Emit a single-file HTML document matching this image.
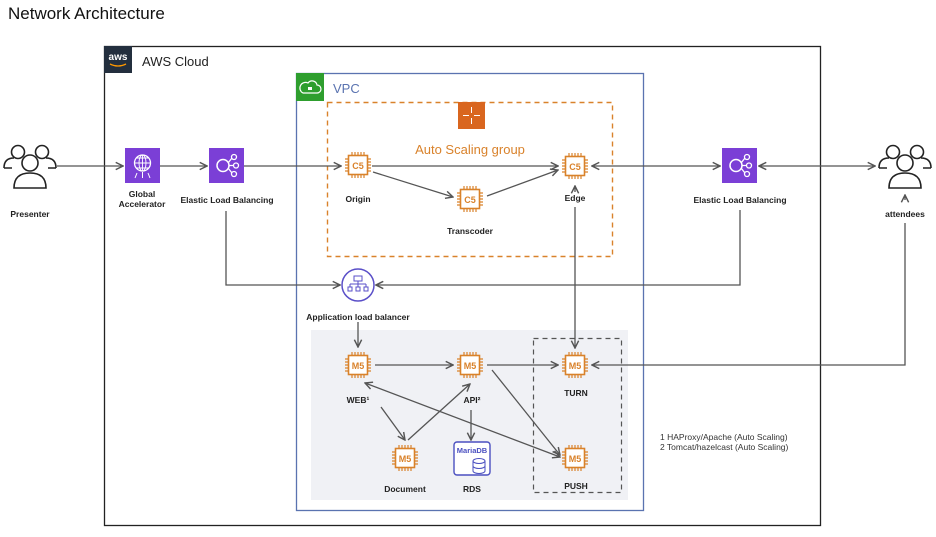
<!DOCTYPE html>
<html><head><meta charset="utf-8"><style>
html,body{margin:0;padding:0;background:#fff;}
svg{display:block;font-family:"Liberation Sans",Arial,sans-serif;}
.lb{font-size:8.5px;font-weight:bold;fill:#222;text-anchor:middle;}
.ln{stroke:#555;stroke-width:1.3;fill:none;}
</style></head><body>
<svg width="936" height="537" viewBox="0 0 936 537" xmlns="http://www.w3.org/2000/svg">
<defs>
<marker id="a" viewBox="0 0 10 10" refX="9" refY="5" markerWidth="7" markerHeight="7" orient="auto-start-reverse">
<path d="M1,1 L9,5 L1,9" fill="none" stroke="#555" stroke-width="1.6"/></marker>
<g id="chip">
<rect x="-9.5" y="-9.5" width="19" height="19" fill="#fff" stroke="#d9822b" stroke-width="1.6"/>
<path d="M-6,-9v-4M-3,-9v-4M0,-9v-4M3,-9v-4M6,-9v-4 M-6,9v4M-3,9v4M0,9v4M3,9v4M6,9v4 M-9,-6h-4M-9,-3h-4M-9,0h-4M-9,3h-4M-9,6h-4 M9,-6h4M9,-3h4M9,0h4M9,3h4M9,6h4" stroke="#d9822b" stroke-width="1.2"/>
</g>
<g id="elb">
<rect x="0" y="0" width="35" height="35" fill="#7b3fd6"/>
<circle cx="14" cy="17.5" r="6" fill="none" stroke="#fff" stroke-width="1.5"/>
<circle cx="25" cy="9" r="2.5" fill="none" stroke="#fff" stroke-width="1.3"/>
<circle cx="27" cy="17.5" r="2.5" fill="none" stroke="#fff" stroke-width="1.3"/>
<circle cx="25" cy="26" r="2.5" fill="none" stroke="#fff" stroke-width="1.3"/>
<path d="M19,15 L23,10 M20,17.5 L24.5,17.5 M19,20 L23,25" stroke="#fff" stroke-width="1.3"/>
</g>
<g id="people" fill="none" stroke="#222" stroke-width="1.6">
<circle cx="-12" cy="-14" r="6.5"/><circle cx="12" cy="-14" r="6.5"/>
<path d="M-26,2 q0,-10 10,-10 M26,2 q0,-10 -10,-10"/>
<path d="M-26,2 h8 M26,2 h-8"/>
<circle cx="0" cy="-3" r="8" fill="#fff"/>
<path d="M-16,22 q0,-15 16,-15 q16,0 16,15 z" fill="#fff"/>
</g>
</defs>

<text x="8" y="19" font-size="17" fill="#111">Network Architecture</text>

<rect x="104.5" y="46.5" width="716" height="479" fill="none" stroke="#222" stroke-width="1.3"/>
<rect x="104" y="46" width="28" height="27" fill="#232f3e"/>
<text x="118" y="60" font-size="10" fill="#fff" text-anchor="middle" font-weight="bold">aws</text>
<path d="M110,64 q8,4 16,0" stroke="#f90" stroke-width="1.3" fill="none"/>
<text x="142" y="66" font-size="13" fill="#222">AWS Cloud</text>

<rect x="296.5" y="73.5" width="347" height="437" fill="none" stroke="#5a73b0" stroke-width="1.3"/>
<rect x="296" y="73" width="28" height="28" fill="#2e9e2e"/>
<path d="M303,93 h14 a4,4 0 0 0 0,-8 a5,5 0 0 0 -9,-2 a4,4 0 0 0 -5,10z" fill="none" stroke="#fff" stroke-width="1.2"/>
<rect x="308" y="87" width="4" height="3" fill="#fff"/>
<text x="333" y="93" font-size="13" fill="#5a73b0">VPC</text>

<rect x="327.5" y="102.5" width="285" height="154" fill="none" stroke="#d9822b" stroke-width="1.4" stroke-dasharray="5,4"/>
<rect x="458" y="102" width="27" height="27" fill="#d9661f"/>
<path d="M471.5,107v6M471.5,118v6M463,115.5h6M474,115.5h6" stroke="#fff" stroke-width="1"/>
<text x="470" y="154" font-size="13" fill="#d9822b" text-anchor="middle">Auto Scaling group</text>

<rect x="311" y="330" width="317" height="170" fill="#f0f1f5"/>
<rect x="533.5" y="338.5" width="88" height="154" fill="none" stroke="#555" stroke-width="1.2" stroke-dasharray="5,4"/>

<path class="ln" d="M57,166 H123" marker-end="url(#a)"/>
<path class="ln" d="M160,166 H207" marker-end="url(#a)"/>
<path class="ln" d="M244,166 H341" marker-end="url(#a)"/>
<path class="ln" d="M372,166 H558" marker-end="url(#a)"/>
<path class="ln" d="M373,172 L453,197" marker-end="url(#a)"/>
<path class="ln" d="M487,196 L558,170" marker-end="url(#a)"/>
<path class="ln" d="M592,166 H720" marker-start="url(#a)" marker-end="url(#a)"/>
<path class="ln" d="M759,166 H875" marker-start="url(#a)" marker-end="url(#a)"/>
<path class="ln" d="M226,211 V285 H340" marker-end="url(#a)"/>
<path class="ln" d="M740,210 V285 H376" marker-end="url(#a)"/>
<path class="ln" d="M575,192 V186" marker-end="url(#a)"/>
<path class="ln" d="M575,207 V348" marker-end="url(#a)"/>
<path class="ln" d="M905,200 V195" marker-end="url(#a)"/>
<path class="ln" d="M905,223 V365 H592" marker-end="url(#a)"/>
<path class="ln" d="M358,322 V347" marker-end="url(#a)"/>
<path class="ln" d="M375,365 H453" marker-end="url(#a)"/>
<path class="ln" d="M487,365 H558" marker-end="url(#a)"/>
<path class="ln" d="M381,407 L405,440" marker-end="url(#a)"/>
<path class="ln" d="M408,440 L470,384" marker-end="url(#a)"/>
<path class="ln" d="M365,383 L560,457" marker-start="url(#a)" marker-end="url(#a)"/>
<path class="ln" d="M492,370 L560,455" marker-end="url(#a)"/>
<path class="ln" d="M471,410 V440" marker-end="url(#a)"/>

<use href="#people" x="30" y="166"/>
<text class="lb" x="30" y="217">Presenter</text>
<use href="#people" x="905" y="166"/>
<text class="lb" x="905" y="217">attendees</text>

<rect x="125" y="148" width="35" height="35" fill="#7b3fd6"/>
<circle cx="142.5" cy="163" r="8" fill="none" stroke="#fff" stroke-width="1.3"/>
<path d="M134.5,163h16M142.5,155v16M136,158h13M136,168h13" stroke="#fff" stroke-width="0.9"/>
<ellipse cx="142.5" cy="163" rx="3.5" ry="8" fill="none" stroke="#fff" stroke-width="0.9"/>
<path d="M137,173l-2,5M142.5,172v6M148,173l2,5" stroke="#fff" stroke-width="1"/>
<text class="lb" x="142" y="197">Global</text>
<text class="lb" x="142" y="207">Accelerator</text>

<use href="#elb" x="209" y="148"/>
<text class="lb" x="227" y="203">Elastic Load Balancing</text>
<use href="#elb" x="722" y="148"/>
<text class="lb" x="740" y="203">Elastic Load Balancing</text>

<g font-size="9" font-weight="bold" fill="#d9822b" text-anchor="middle">
<use href="#chip" x="358" y="165"/><text x="358" y="169">C5</text>
<use href="#chip" x="470" y="199"/><text x="470" y="203">C5</text>
<use href="#chip" x="575" y="166"/><text x="575" y="170">C5</text>
<use href="#chip" x="358" y="365"/><text x="358" y="369">M5</text>
<use href="#chip" x="470" y="365"/><text x="470" y="369">M5</text>
<use href="#chip" x="575" y="365"/><text x="575" y="369">M5</text>
<use href="#chip" x="405" y="458"/><text x="405" y="462">M5</text>
<use href="#chip" x="575" y="458"/><text x="575" y="462">M5</text>
</g>
<text class="lb" x="358" y="202">Origin</text>
<text class="lb" x="470" y="234">Transcoder</text>
<text class="lb" x="575" y="201">Edge</text>

<circle cx="358" cy="285" r="16" fill="#fff" stroke="#5a4fc8" stroke-width="1.5"/>
<path d="M354,276h8v5h-8z M358,281v3 M350,284h16 M350,284v3 M358,284v3 M366,284v3 M348,287h4v4h-4z M356,287h4v4h-4z M364,287h4v4h-4z" fill="none" stroke="#5a4fc8" stroke-width="1"/>
<text class="lb" x="358" y="320">Application load balancer</text>

<text class="lb" x="358" y="403">WEB¹</text>
<text class="lb" x="472" y="403">API²</text>
<text class="lb" x="576" y="396">TURN</text>
<text class="lb" x="405" y="492">Document</text>
<text class="lb" x="576" y="489">PUSH</text>

<rect x="454" y="442" width="36" height="33" rx="3" fill="#fff" stroke="#4a4fc0" stroke-width="1.4"/>
<text x="472" y="453" font-size="7.5" font-weight="bold" fill="#4a4fc0" text-anchor="middle">MariaDB</text>
<ellipse cx="479" cy="461" rx="6" ry="2.5" fill="none" stroke="#4a4fc0"/>
<path d="M473,461v10M485,461v10M473,466a6,2.5 0 0 0 12,0M473,471a6,2.5 0 0 0 12,0" fill="none" stroke="#4a4fc0"/>
<text class="lb" x="472" y="492">RDS</text>

<text x="660" y="440" font-size="8.5" fill="#333">1 HAProxy/Apache (Auto Scaling)</text>
<text x="660" y="450" font-size="8.5" fill="#333">2 Tomcat/hazelcast (Auto Scaling)</text>
</svg>
</body></html>
